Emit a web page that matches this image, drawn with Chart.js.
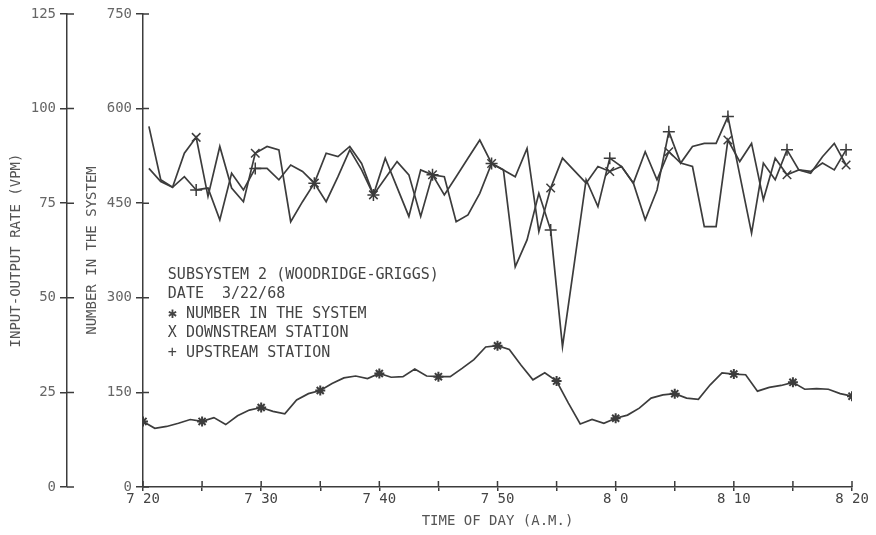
<!DOCTYPE html>
<html>
<head>
<meta charset="utf-8">
<script src="https://cdn.jsdelivr.net/npm/chart.js@4"></script>
<style>
  body { margin: 0; background: #fff; }
</style>
</head>
<body>
<canvas id="chart" width="876" height="535"></canvas>
<script>
'use strict';

// x axis runs in minutes after 7:20
var timeLabels = ["7 20", "7 30", "7 40", "7 50", "8 0", "8 10", "8 20"];

// number of vehicles in the system, one value per minute 7:20 .. 8:20
var numberInSystem = [104, 93, 96, 101, 107, 104, 110, 99, 113, 122, 126, 120, 116, 138, 148, 153, 164, 173, 176, 172, 180,
    174, 175, 187, 176, 175, 175, 188, 202, 222, 224, 218, 193, 170, 181, 168, 133, 100, 107, 101, 109,
    114, 125, 141, 146, 148, 141, 139, 162, 181, 179, 178, 152, 158, 161, 166, 155, 156, 155, 148, 144];

// rates (vpm) per one-minute interval, plotted at the middle of the interval
var downstreamRate = [95.3, 81.2, 79.2, 88.2, 92.4, 76.8, 90.0, 79.0, 75.4, 88.2, 90.0, 89.1, 70.1, 75.4, 80.3,
    88.2, 87.3, 90.0, 85.5, 77.2, 86.9, 79.2, 71.5, 83.8, 82.5, 82.0, 70.1, 71.9, 77.6, 85.5,
    83.8, 82.0, 89.5, 67.5, 79.0, 86.9, 83.6, 80.3, 84.7, 83.4, 84.7, 80.3, 88.6, 81.2, 88.6,
    85.6, 84.7, 68.8, 68.8, 91.7, 86.0, 90.8, 75.9, 86.9, 82.5, 83.8, 82.9, 87.3, 90.8, 85.1];
var upstreamRate = [84.2, 80.7, 79.2, 82.0, 78.5, 79.0, 70.6, 82.9, 78.5, 84.2, 84.2, 81.2, 85.1, 83.4, 80.3,
    75.4, 82.0, 89.1, 83.8, 77.2, 81.6, 86.0, 82.5, 71.5, 82.5, 77.2, 82.0, 86.9, 91.7, 85.5,
    83.8, 58.2, 65.3, 77.6, 67.9, 37.1, 59.1, 81.2, 74.1, 86.9, 84.7, 80.3, 70.6, 78.5, 93.9,
    85.6, 90.0, 90.8, 90.8, 97.9, 82.5, 67.1, 85.6, 81.2, 89.1, 83.8, 83.4, 85.6, 83.8, 89.1];

var noteLines = [
    "SUBSYSTEM 2 (WOODRIDGE-GRIGGS)",
    "DATE  3/22/68",
    "\u2731 NUMBER IN THE SYSTEM",
    "X DOWNSTREAM STATION",
    "+ UPSTREAM STATION"
];

var INK = '#3c3c3c';
var TEXT = '#555';
var FONT = 'DejaVu Sans Mono';

var numberPoints = numberInSystem.map(function(v, i) { return {x: i, y: v}; });
var downPoints = downstreamRate.map(function(v, i) { return {x: i + 0.5, y: v}; });
var upPoints = upstreamRate.map(function(v, i) { return {x: i + 0.5, y: v}; });

// little crosses on the axes + the note block
var axisCross = {
    id: 'axisCross',
    afterDraw: function(chart) {
        var ctx = chart.ctx;
        var area = chart.chartArea;
        var sx = chart.scales.x, sn = chart.scales.yNum, sr = chart.scales.yRate;
        ctx.save();
        ctx.strokeStyle = INK;
        ctx.lineWidth = 1.5;
        ctx.beginPath();
        sx.ticks.forEach(function(t) {
            var p = sx.getPixelForValue(t.value);
            ctx.moveTo(p, area.bottom);
            ctx.lineTo(p, area.bottom - 6);
        });
        sn.ticks.forEach(function(t) {
            var p = sn.getPixelForValue(t.value);
            ctx.moveTo(area.left, p);
            ctx.lineTo(area.left + 6, p);
        });
        sr.ticks.forEach(function(t) {
            var p = sr.getPixelForValue(t.value);
            ctx.moveTo(sr.right, p);
            ctx.lineTo(sr.right + 7, p);
        });
        ctx.stroke();

        ctx.fillStyle = '#444';
        ctx.font = '15px "' + FONT + '"';
        ctx.textAlign = 'left';
        ctx.textBaseline = 'middle';
        var x0 = sx.getPixelForValue(2.1);
        var y0 = sn.getPixelForValue(336);
        noteLines.forEach(function(s, i) {
            ctx.fillText(s, x0, y0 + i * 19.5);
        });
        ctx.restore();
    }
};

var myChart = new Chart(document.getElementById("chart").getContext('2d'), {
    type: 'line',
    data: {
        datasets: [{
            data: numberPoints,
            yAxisID: 'yNum',
            borderColor: INK,
            borderWidth: 1.7,
            pointStyle: 'star',
            pointRadius: function(c) { return c.dataIndex % 5 === 0 ? 5 : 0; },
            pointBorderColor: INK,
            pointBorderWidth: 2
        }, {
            data: downPoints,
            yAxisID: 'yRate',
            borderColor: INK,
            borderWidth: 1.7,
            pointStyle: 'crossRot',
            pointRadius: function(c) { return c.dataIndex % 5 === 4 ? 6 : 0; },
            pointBorderColor: INK,
            pointBorderWidth: 1.5
        }, {
            data: upPoints,
            yAxisID: 'yRate',
            borderColor: INK,
            borderWidth: 1.7,
            pointStyle: 'cross',
            pointRadius: function(c) { return c.dataIndex % 5 === 4 ? 6 : 0; },
            pointBorderColor: INK,
            pointBorderWidth: 1.5
        }]
    },
    options: {
        responsive: false,
        animation: false,
        layout: { padding: { top: 14, right: 24, left: 0, bottom: 0 } },
        plugins: {
            legend: { display: false },
            tooltip: { enabled: false }
        },
        scales: {
            x: {
                type: 'linear',
                min: 0,
                max: 60,
                ticks: {
                    stepSize: 5,
                    autoSkip: false,
                    maxRotation: 0,
                    padding: 0,
                    color: '#444',
                    font: { family: FONT, size: 14 },
                    callback: function(value) {
                        return value % 10 === 0 ? timeLabels[value / 10] : '';
                    }
                },
                grid: { drawOnChartArea: false, tickLength: 4, color: INK, lineWidth: 1.5 },
                border: { color: INK, width: 1.5 },
                title: {
                    display: true,
                    text: 'TIME OF DAY (A.M.)',
                    color: TEXT,
                    font: { family: FONT, size: 14 },
                    padding: { top: 2, bottom: 5 }
                },
                afterFit: function(s) { s.height = 48; }
            },
            yNum: {
                type: 'linear',
                position: 'left',
                weight: 0,
                min: 0,
                max: 750,
                ticks: {
                    stepSize: 150,
                    padding: 4,
                    color: '#666',
                    font: { family: FONT, size: 14 }
                },
                grid: { drawOnChartArea: false, tickLength: 7, color: INK, lineWidth: 1.5 },
                border: { color: INK, width: 1.5 },
                title: {
                    display: true,
                    text: 'NUMBER IN THE SYSTEM',
                    color: TEXT,
                    font: { family: FONT, size: 14 },
                    padding: { top: 17, bottom: 0 }
                },
                afterFit: function(s) { s.width = 76; }
            },
            yRate: {
                type: 'linear',
                position: 'left',
                weight: 1,
                min: 0,
                max: 125,
                ticks: {
                    stepSize: 25,
                    padding: 4,
                    color: '#666',
                    font: { family: FONT, size: 14 }
                },
                grid: { drawOnChartArea: false, tickLength: 7, color: INK, lineWidth: 1.5 },
                border: { color: INK, width: 1.5 },
                title: {
                    display: true,
                    text: 'INPUT-OUTPUT RATE (VPM)',
                    color: TEXT,
                    font: { family: FONT, size: 14 },
                    padding: { top: 8, bottom: 0 }
                },
                afterFit: function(s) { s.width = 67; }
            }
        }
    },
    plugins: [axisCross]
});
</script>
</body>
</html>
